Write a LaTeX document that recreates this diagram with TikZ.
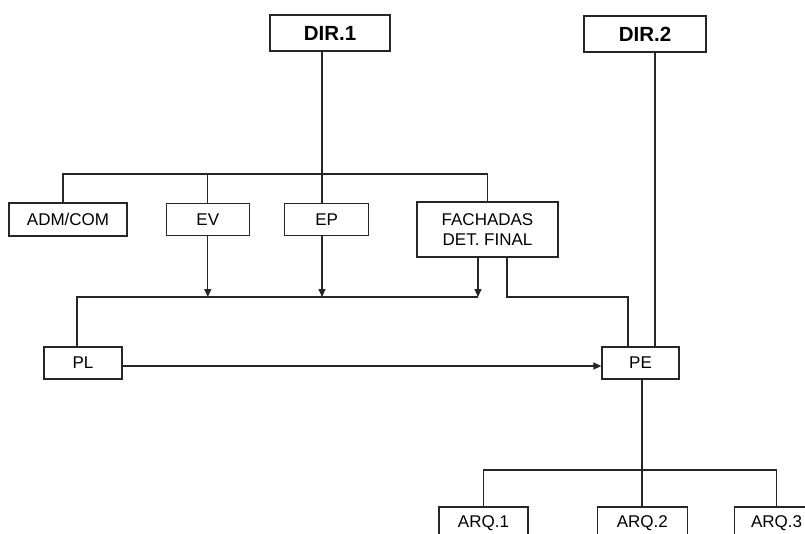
\documentclass[tikz,border=0pt]{standalone}
\usepackage{fontspec}
\setmainfont{Liberation Sans}
\usetikzlibrary{arrows.meta,positioning,calc}

\begin{document}
\begin{tikzpicture}[x=1pt,y=1pt,line width=1.3pt,draw=black!85,
 every node/.style={font=\fontsize{17}{20}\selectfont},
 box/.style={draw,fill=white,inner sep=0pt,minimum height=32pt,align=center},
 dirbox/.style={box,minimum height=36pt,font=\fontsize{20.5}{24}\selectfont\bfseries},
 arr/.style={-{Triangle[length=8pt,width=7pt]}}]
\useasboundingbox (0,0) rectangle (805,-533);
\clip (0,0) rectangle (805,-533);
% directions
\node[dirbox,minimum width=120pt] (dir1) at (330,-33) {DIR.1};
\node[dirbox,minimum width=122pt] (dir2) at (645,-34) {DIR.2};
% first row
\node[box,minimum width=118pt,minimum height=33pt] (adm) at (68,-219.5) {ADM/COM};
\node[box,minimum width=83pt,right=38pt of adm] (ev) {EV};
\node[box,minimum width=84pt,right=34pt of ev] (ep) {EP};
\node[box,minimum width=141pt,minimum height=55pt] (fach) at (487.5,-229.5) {FACHADAS\\DET. FINAL};
% plans
\node[box,minimum width=78pt] (pl) at (83,-363) {PL};
\node[box,minimum width=77pt] (pe) at (640.5,-363) {PE};
% arq row
\node[box,minimum width=89pt] (arq1) at (483.5,-523) {ARQ.1};
\node[box,minimum width=90pt,right=68pt of arq1] (arq2) {ARQ.2};
\node[box,minimum width=84pt,right=46pt of arq2] (arq3) {ARQ.3};
% buses
\coordinate (bus1) at (322,-174);
\coordinate (bus2) at (322,-297);
\coordinate (bus3) at (642,-470);
\coordinate (fachl) at ([xshift=-9.5pt]fach.south);
\coordinate (fachr) at ([xshift=19.5pt]fach.south);
\coordinate (pein) at ([xshift=-12.5pt]pe.north);
\coordinate (pein2) at ([xshift=14.5pt]pe.north);
\draw (dir1.south -| bus1) -- (bus1);
\draw ([xshift=-5pt]adm.north) |- (bus1) -| (fach.north);
\draw (ev.north) -- (ev.north |- bus1);
\draw (ep.north -| bus1) -- (bus1);
\draw[arr] (ev.south) -- (ev.south |- bus2);
\draw[arr] (ep.south -| bus2) -- (bus2);
\draw[arr] (fachl) -- (fachl |- bus2);
\draw (fachl |- bus2) -| ([xshift=-6pt]pl.north);
\draw (fachr) |- (pein |- bus2) -- (pein);
\draw (dir2.south -| pein2) -- (pein2);
\draw[arr] ([yshift=-3pt]pl.east) -- ([yshift=-3pt]pe.west);
\draw (pe.south -| bus3) -- (bus3);
\draw (arq1.north) |- (bus3) -| (arq3.north);
\draw (bus3) -- (arq2.north -| bus3);
\end{tikzpicture}
\end{document}
